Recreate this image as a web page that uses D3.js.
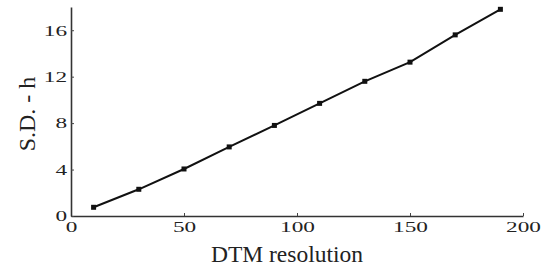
<!DOCTYPE html>
<html>
<head>
<meta charset="utf-8">
<script src="https://cdn.jsdelivr.net/npm/d3@7"></script>
<style>
  body { margin: 0; background: #fff; }
  svg { display: block; }
</style>
</head>
<body>
<svg id="chart" width="553" height="271"></svg>
<script>
// values
var resolution = [10, 30, 50, 70, 90, 110, 130, 150, 170, 190];
var sdH = [0.75, 2.3, 4.05, 5.95, 7.8, 9.7, 11.6, 13.25, 15.6, 17.8];
var xTicks = [0, 50, 100, 150, 200];
var yTicks = [0, 4, 8, 12, 16];

var svg = d3.select("#chart");
var font = "'Liberation Serif', 'Times New Roman', serif";

var x = d3.scaleLinear().domain([0, 200]).range([71, 523]);
var y = d3.scaleLinear().domain([0, 18]).range([216, 7]);

// digits in the picture look wide, so stretch them a bit
var stretch = function(sel) {
  sel.selectAll(".tick text").each(function() {
    var t = d3.select(this);
    var tx = +t.attr("x") || 0, ty = +t.attr("y") || 0;
    t.attr("x", 0).attr("y", 0)
     .attr("transform", "translate(" + tx + "," + ty + ") scale(1.55,1)");
  });
};

var xAxis = d3.axisBottom(x).tickValues(xTicks).tickSize(-3).tickSizeOuter(0).tickPadding(5);
var yAxis = d3.axisLeft(y).tickValues(yTicks).tickSize(-3).tickSizeOuter(0).tickPadding(4);

var gx = svg.append("g").attr("transform", "translate(0," + y(0) + ")").call(xAxis);
var gy = svg.append("g").attr("transform", "translate(" + x(0) + ",0)").call(yAxis);

[gx, gy].forEach(function(g) {
  g.select(".domain").attr("stroke", "#333").attr("stroke-width", 1.6);
  g.selectAll(".tick line").attr("stroke", "#444");
  g.selectAll(".tick text")
    .style("font-family", font)
    .style("font-size", "15px")
    .attr("fill", "#222");
  stretch(g);
});

var line = d3.line()
  .x(function(d, i) { return x(resolution[i]); })
  .y(function(d) { return y(d); });

svg.append("path")
  .datum(sdH)
  .attr("d", line)
  .attr("fill", "none")
  .attr("stroke", "#111")
  .attr("stroke-width", 2);

svg.selectAll("rect.pt")
  .data(sdH)
  .enter().append("rect")
  .attr("class", "pt")
  .attr("x", function(d, i) { return x(resolution[i]) - 2.5; })
  .attr("y", function(d) { return y(d) - 2.5; })
  .attr("width", 5)
  .attr("height", 5)
  .attr("fill", "#111");

// axis titles
svg.append("text")
  .attr("x", 287)
  .attr("y", 262)
  .attr("text-anchor", "middle")
  .style("font-family", font)
  .style("font-size", "23.5px")
  .attr("fill", "#222")
  .text("DTM resolution");

svg.append("text")
  .attr("transform", "translate(35,114) rotate(-90)")
  .attr("text-anchor", "middle")
  .style("font-family", font)
  .style("font-size", "24px")
  .attr("fill", "#222")
  .text("S.D. - h");
</script>
</body>
</html>
